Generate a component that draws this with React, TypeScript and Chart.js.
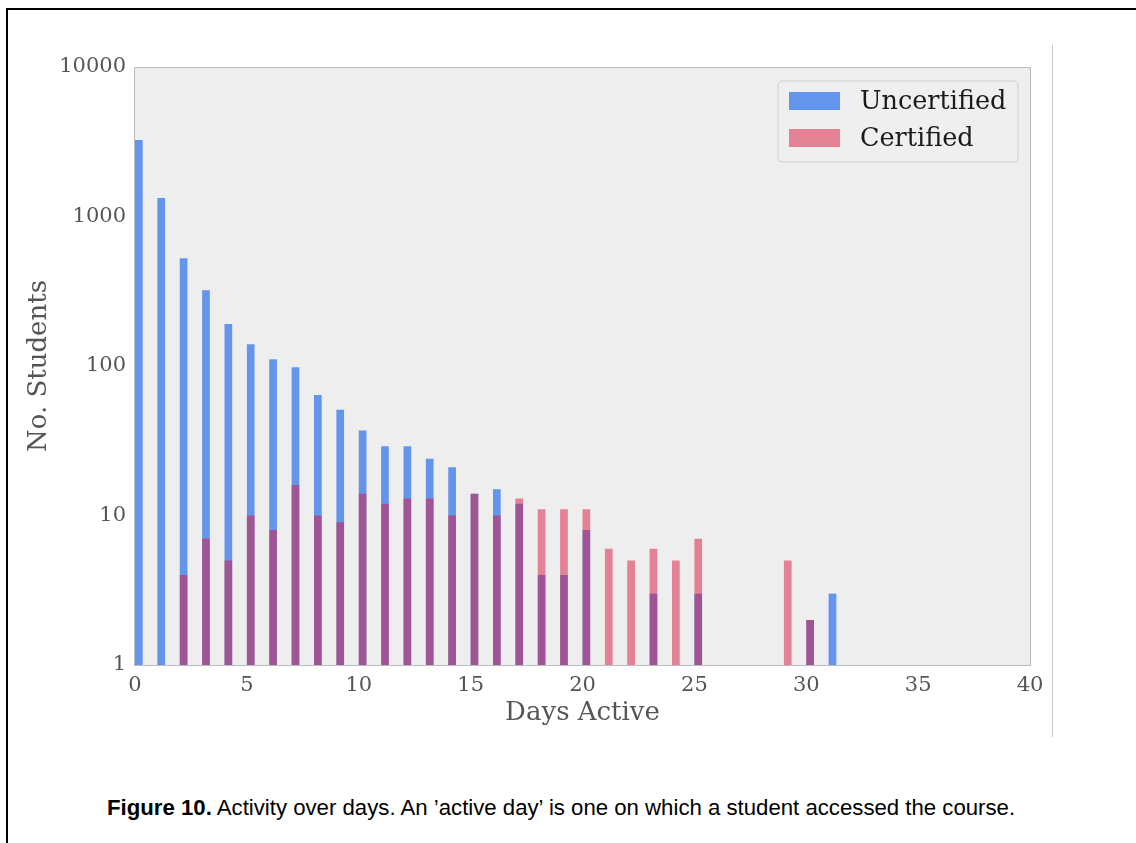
import React, { useEffect, useRef } from "react";
import { Chart, registerables } from "chart.js";

Chart.register(...registerables);

// ---- data ----
const DAYS: number[] = [
  0, 1, 2, 3, 4, 5, 6, 7, 8, 9, 10, 11, 12, 13, 14, 15, 16, 17, 18, 19, 20,
  21, 22, 23, 24, 25, 26, 27, 28, 29, 30, 31,
];
const UNCERTIFIED: (number | null)[] = [
  3250, 1330, 525, 321, 191, 140, 111, 98, 64, 51, 37, 29, 29, 24, 21, 14, 15,
  12, 4, 4, 8, null, null, 3, null, 3, null, null, null, null, 2, 3,
];
const CERTIFIED: (number | null)[] = [
  null, null, 4, 7, 5, 10, 8, 16, 10, 9, 14, 12, 13, 13, 10, 14, 10, 13, 11,
  11, 11, 6, 5, 6, 5, 7, null, null, null, 5, 2, null,
];
const SERIES_LABELS: string[] = ["Uncertified", "Certified"];
const X_TICKS: number[] = [0, 5, 10, 15, 20, 25, 30, 35, 40];
const Y_TICKS: number[] = [1, 10, 100, 1000, 10000];
const X_TITLE = "Days Active";
const Y_TITLE = "No. Students";
const CAPTION_BOLD = "Figure 10.";
const CAPTION_TEXT =
  " Activity over days. An \u2019active day\u2019 is one on which a student accessed the course.";

// ---- styling ----
const BLUE = "rgb(100,149,237)";
const PINK = "rgba(220,20,60,0.5)";
const BAR_FRACTION = 0.344; // bar width as a fraction of one day
const SERIF = "'DejaVu Serif', serif";

const toPoints = (vals: (number | null)[]) =>
  DAYS.map((d, i) => ({ x: d + BAR_FRACTION / 2, y: vals[i] })).filter(
    (p) => p.y !== null
  );

const backgroundPlugin = {
  id: "areaBg",
  beforeDraw(chart: any) {
    const { ctx, chartArea: a } = chart;
    ctx.save();
    ctx.fillStyle = "#eeeeee";
    ctx.fillRect(a.left, a.top, a.right - a.left, a.bottom - a.top);
    ctx.restore();
  },
  afterDatasetsDraw(chart: any) {
    const { ctx, chartArea: a } = chart;
    ctx.save();
    ctx.strokeStyle = "#bcbcbc";
    ctx.lineWidth = 1;
    ctx.strokeRect(a.left - 0.5, a.top + 0.5, a.right - a.left + 1, a.bottom - a.top);
    ctx.restore();
  },
};

const legendPlugin = {
  id: "insideLegend",
  afterDraw(chart: any) {
    const { ctx, chartArea: a } = chart;
    const w = 240;
    const h = 81;
    const right = a.right - 12;
    const left = right - w;
    const top = a.top + 14;
    ctx.save();
    ctx.beginPath();
    const r = 5;
    ctx.moveTo(left + r, top);
    ctx.lineTo(left + w - r, top);
    ctx.quadraticCurveTo(left + w, top, left + w, top + r);
    ctx.lineTo(left + w, top + h - r);
    ctx.quadraticCurveTo(left + w, top + h, left + w - r, top + h);
    ctx.lineTo(left + r, top + h);
    ctx.quadraticCurveTo(left, top + h, left, top + h - r);
    ctx.lineTo(left, top + r);
    ctx.quadraticCurveTo(left, top, left + r, top);
    ctx.closePath();
    ctx.fillStyle = "#efefef";
    ctx.fill();
    ctx.strokeStyle = "#cfcfcf";
    ctx.lineWidth = 1;
    ctx.stroke();
    const rows = [top + 20, top + 57];
    chart.data.datasets.forEach((ds: any, i: number) => {
      const cy = rows[i];
      ctx.fillStyle = ds.backgroundColor;
      ctx.fillRect(left + 11, cy - 9, 51, 18);
      ctx.fillStyle = "#1a1a1a";
      ctx.font = `25.5px ${SERIF}`;
      ctx.textBaseline = "middle";
      ctx.textAlign = "left";
      ctx.fillText(ds.label, left + 82, cy + 1);
    });
    ctx.restore();
  },
};

function ChartView() {
  const ref = useRef<HTMLCanvasElement | null>(null);
  useEffect(() => {
    if (!ref.current) return;
    const chart = new Chart(ref.current, {
      type: "bar",
      data: {
        datasets: [
          {
            label: SERIES_LABELS[0],
            data: toPoints(UNCERTIFIED) as any,
            backgroundColor: BLUE,
            borderWidth: 0,
            grouped: false,
            order: 1,
            categoryPercentage: 1,
            barPercentage: BAR_FRACTION,
          } as any,
          {
            label: SERIES_LABELS[1],
            data: toPoints(CERTIFIED) as any,
            backgroundColor: PINK,
            borderWidth: 0,
            grouped: false,
            order: 0,
            categoryPercentage: 1,
            barPercentage: BAR_FRACTION,
          } as any,
        ],
      },
      options: {
        responsive: false,
        animation: false,
        devicePixelRatio: 1,
        layout: { padding: { top: 67, right: 106, left: 24, bottom: 31 } },
        plugins: {
          legend: { display: false },
          tooltip: { enabled: false },
        },
        scales: {
          x: {
            type: "linear",
            offset: false,
            min: 0,
            max: 40,
            afterBuildTicks: (s: any) => {
              s.ticks = X_TICKS.map((v) => ({ value: v }));
            },
            afterFit: (s: any) => {
              s.height = 64;
            },
            grid: { display: false, drawTicks: false, offset: false },
            border: { display: false },
            ticks: {
              color: "#555",
              font: { family: SERIF, size: 21 },
              padding: 8,
              maxRotation: 0,
              autoSkip: false,
            },
            title: {
              display: true,
              text: X_TITLE,
              color: "#555",
              font: { family: SERIF, size: 26 },
              padding: { top: 0, bottom: 0 },
            },
          },
          y: {
            type: "logarithmic",
            min: 1,
            max: 10000,
            afterBuildTicks: (s: any) => {
              s.ticks = Y_TICKS.map((v) => ({ value: v }));
            },
            afterFit: (s: any) => {
              s.width = 111;
            },
            grid: { display: false, drawTicks: false },
            border: { display: false },
            ticks: {
              color: "#555",
              font: { family: SERIF, size: 21 },
              padding: 9,
              autoSkip: false,
              callback: (v: any) => String(v),
            },
            title: {
              display: true,
              text: Y_TITLE,
              color: "#555",
              font: { family: SERIF, size: 26 },
              padding: { top: 0, bottom: 0 },
            },
          },
        },
      } as any,
      plugins: [backgroundPlugin, legendPlugin],
    });
    return () => chart.destroy();
  }, []);
  return (
    <canvas
      ref={ref}
      width={1136}
      height={760}
      style={{ position: "absolute", left: 0, top: 0, width: 1136, height: 760 }}
    />
  );
}

export default function App() {
  useEffect(() => {
    document.body.style.margin = "0";
  }, []);
  return (
    <div
      style={{
        position: "relative",
        width: 1136,
        height: 843,
        overflow: "hidden",
        background: "#fff",
      }}
    >
      <div
        style={{
          position: "absolute",
          left: 6,
          top: 8,
          width: 2000,
          height: 2000,
          borderTop: "2px solid #000",
          borderLeft: "2px solid #000",
        }}
      />
      <div
        style={{
          position: "absolute",
          left: 1052,
          top: 45,
          width: 1,
          height: 692,
          background: "#c8c8c8",
        }}
      />
      <ChartView />
      <div
        style={{
          position: "absolute",
          left: 107,
          top: 795,
          fontFamily: "'Liberation Sans', Arial, sans-serif",
          fontSize: 22.2,
          lineHeight: "26px",
          color: "#000",
          whiteSpace: "nowrap",
        }}
      >
        <b>{CAPTION_BOLD}</b>
        {CAPTION_TEXT}
      </div>
    </div>
  );
}
